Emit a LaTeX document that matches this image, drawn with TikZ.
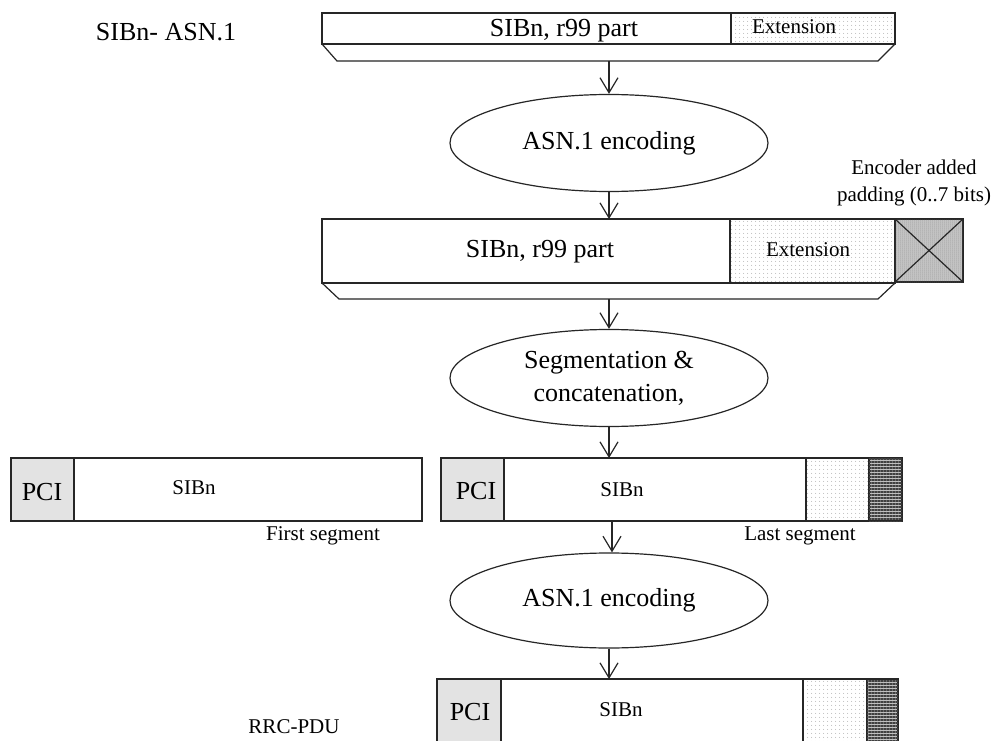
\documentclass[tikz,border=0pt]{standalone}
\usepackage{fontspec}
\setmainfont{Liberation Serif}
\usetikzlibrary{shapes.geometric, arrows.meta, patterns.meta}
\tikzset{
 ln/.style={line width=1.2pt, draw=black!85},
 blk/.style={ln, inner sep=0pt, outer sep=0pt, anchor=north west},
 ell/.style={ellipse, ln, minimum width=318pt, minimum height=97pt, inner sep=0pt, align=center, font=\fontsize{26}{33}\selectfont},
 big/.style={font=\fontsize{26}{31}\selectfont, inner sep=0pt},
 small/.style={font=\fontsize{21}{27}\selectfont, inner sep=0pt},
 arr/.style={ln, -{Straight Barb[length=15pt,width=18pt]}},
 pcif/.style={fill=gray!22},
 dotf/.style={pattern={Dots[distance=4pt,radius=0.5pt]}, pattern color=gray!80},
 padf/.style={fill=gray!40, postaction={pattern={Dots[distance=2pt,radius=0.5pt]}, pattern color=black!60}},
 hatchf/.style={fill=gray!50, postaction={pattern={Lines[angle=0,distance=3pt,line width=1.1pt]}, pattern color=black!75}},
}
\begin{document}
\begin{tikzpicture}[x=1pt,y=-1pt]
\clip (0,0) rectangle (999,741);
\fill[white] (0,0) rectangle (999,741);
% top box
\node[blk, minimum width=409pt, minimum height=31pt] (topm) at (322,13) {};
\node[blk, dotf, minimum width=164pt, minimum height=31pt] (tope) at (731,13) {};
\draw[ln] (topm.south west) -- (337,61) -- (878,61) -- (tope.south east);
\coordinate (t1) at (609,61);
\node[big] (l0) at (166,32) {SIBn- ASN.1};
\node[big] (l1) at (564,31) {SIBn, r99 part};
\node[small] (l2) at (794,27) {Extension};
% ellipse 1
\node[ell] (e1) at (609,143) {ASN.1 encoding};
% middle box
\node[blk, minimum width=408pt, minimum height=64pt] (midm) at (322,219) {};
\node[blk, dotf, minimum width=165pt, minimum height=64pt] (mide) at (730,219) {};
\node[blk, padf, minimum width=68pt, minimum height=63pt] (pad) at (895,219) {};
\draw[ln] (pad.north west) -- (pad.south east) (pad.north east) -- (pad.south west);
\draw[ln] (midm.south west) -- (339,299) -- (878,299) -- (mide.south east);
\coordinate (t2) at (609,299);
\node[big] (l3) at (540,252) {SIBn, r99 part};
\node[small] (l4) at (808,250) {Extension};
\node[small, align=center] (l5) at (914,183) {Encoder added\\padding (0..7 bits)};
% ellipse 2
\node[ell] (e2) at (609,378) {Segmentation \&\\concatenation,};
% first segment
\node[blk, minimum width=411pt, minimum height=63pt] (s1) at (11,458) {};
\node[blk, pcif, minimum width=63pt, minimum height=63pt] (s1p) at (11,458) {};
\node[big] (p1) at (42,492) {PCI};
\node[small] (n1) at (194,488) {SIBn};
\node[small] (f1) at (323,536) {First segment};
% last segment
\node[blk, minimum width=461pt, minimum height=63pt] (s2) at (441,458) {};
\node[blk, pcif, minimum width=63pt, minimum height=63pt] (s2p) at (441,458) {};
\node[blk, dotf, minimum width=63pt, minimum height=63pt] (s2d) at (806,458) {};
\node[blk, hatchf, minimum width=33pt, minimum height=63pt] (s2h) at (869,458) {};
\node[big] (p2) at (476,491) {PCI};
\node[small] (n2) at (622,490) {SIBn};
\node[small] (f2) at (800,536) {Last segment};
\coordinate (s2b) at (612,521);
% ellipse 3
\node[ell, minimum height=95pt] (e3) at (609,600.5) {ASN.1 encoding};
% bottom box
\node[blk, minimum width=461pt, minimum height=80pt] (b) at (437,679) {};
\node[blk, pcif, minimum width=64pt, minimum height=80pt] (bp) at (437,679) {};
\node[blk, dotf, minimum width=64pt, minimum height=80pt] (bd) at (803,679) {};
\node[blk, hatchf, minimum width=31pt, minimum height=80pt] (bh) at (867,679) {};
\node[big] (p3) at (470,712) {PCI};
\node[small] (n3) at (621,710) {SIBn};
\node[small] (r1) at (294,727) {RRC-PDU};
% arrows
\draw[arr] (t1) -- (e1.north);
\draw[arr] (e1.south) -- (e1.south |- midm.north);
\draw[arr] (t2) -- (e2.north);
\draw[arr] (e2.south) -- (e2.south |- s2.north);
\draw[arr] (s2b) -- (s2b |- e3.north);
\draw[arr] (e3.south) -- (e3.south |- b.north);
\end{tikzpicture}
\end{document}
